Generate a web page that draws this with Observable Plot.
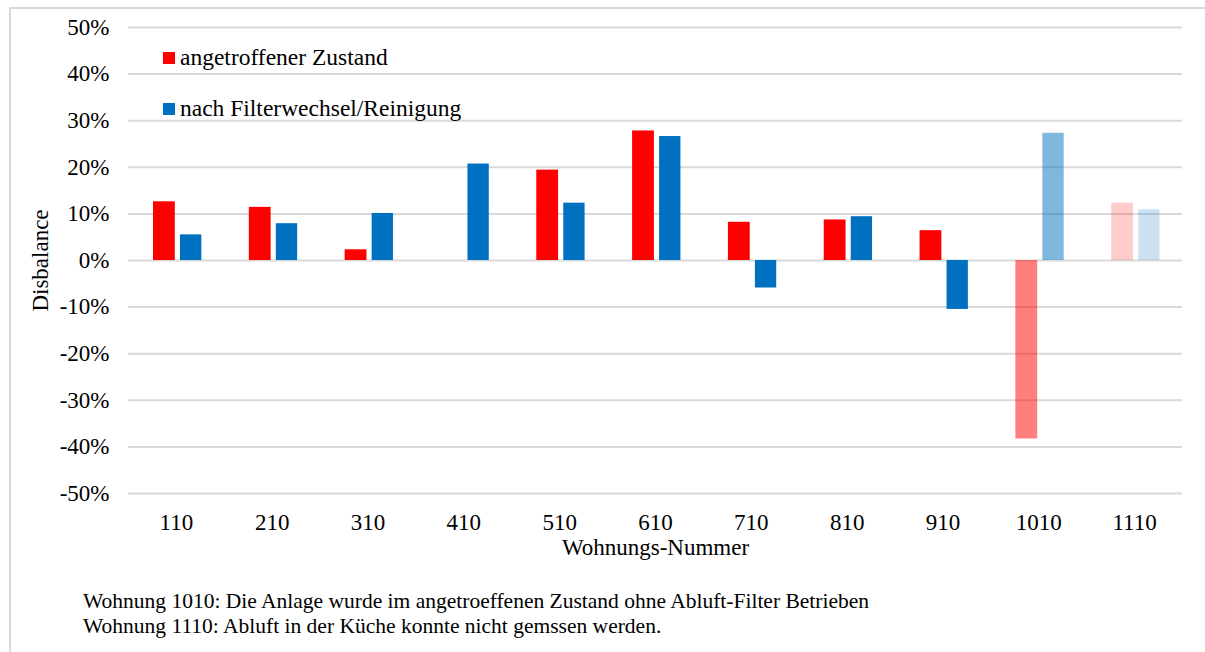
<!DOCTYPE html>
<html>
<head>
<meta charset="utf-8">
<script src="https://cdn.jsdelivr.net/npm/d3@7"></script>
<script src="https://cdn.jsdelivr.net/npm/@observablehq/plot@0.6"></script>
<style>
  body { margin: 0; background: #fff; }
  #wrap { position: relative; width: 1205px; height: 652px; overflow: hidden; font-family: "Liberation Serif", "Times New Roman", serif; color: #000; }
  #borderTop { position: absolute; left: 10px; top: 7px; width: 1195px; height: 2px; background: #d9d9d9; }
  #borderLeft { position: absolute; left: 9px; top: 7px; width: 2px; height: 645px; background: #d9d9d9; }
  #chart { position: absolute; left: 0; top: 0; }
  .leg { position: absolute; left: 163px; font-size: 23.5px; display: flex; align-items: center; white-space: nowrap; }
  .sw { width: 12px; height: 12px; margin-right: 5px; }
  #note { position: absolute; left: 83px; top: 589px; font-size: 21.5px; line-height: 25px; white-space: nowrap; transform-origin: 0 0; }
</style>
</head>
<body>
<div id="wrap">
  <div id="borderTop"></div>
  <div id="borderLeft"></div>
  <div id="chart"></div>
  <div class="leg" style="top:44px"><div class="sw" style="background:#FF0000"></div>angetroffener Zustand</div>
  <div class="leg" style="top:95px"><div class="sw" style="background:#0070C0"></div>nach Filterwechsel/Reinigung</div>
  <div id="note">Wohnung 1010: Die Anlage wurde im angetroeffenen Zustand ohne Abluft-Filter Betrieben<br>Wohnung 1110: Abluft in der Küche konnte nicht gemssen werden.</div>
</div>
<script>
const categories = ["110","210","310","410","510","610","710","810","910","1010","1110"];
const angetroffen = [0.126, 0.114, 0.023, 0.0, 0.194, 0.278, 0.082, 0.087, 0.064, -0.383, 0.123];
const nachWechsel = [0.055, 0.079, 0.101, 0.207, 0.123, 0.266, -0.059, 0.094, -0.105, 0.273, 0.109];
const yTicks = [-0.5,-0.4,-0.3,-0.2,-0.1,0,0.1,0.2,0.3,0.4,0.5];
const fadedCategories = {"1010": 0.5, "1110": 0.2};

const rowsRed = categories.map((c, i) => ({cat: c, value: angetroffen[i], op: fadedCategories[c] ?? 1}));
const rowsBlue = categories.map((c, i) => ({cat: c, value: nachWechsel[i], op: fadedCategories[c] ?? 1}));

const chart = Plot.plot({
  width: 1205,
  height: 570,
  marginLeft: 128,
  marginRight: 23,
  marginTop: 27,
  marginBottom: 77,
  style: {fontFamily: "'Liberation Serif', 'Times New Roman', serif", fontSize: "23px", color: "#000", background: "transparent"},
  x: {type: "band", domain: categories, padding: 0, round: false, label: null, tickSize: 0, tickPadding: 20},
  y: {domain: [-0.5, 0.5], ticks: yTicks, tickFormat: d => Math.round(d * 100) + "%", label: null, tickSize: 0, tickPadding: 19},
  marks: [
    Plot.ruleY(yTicks, {stroke: "#d9d9d9", strokeWidth: 2}),
    Plot.barY(rowsRed, {x: "cat", y: "value", fill: "#FF0000", fillOpacity: "op", insetLeft: 25, insetRight: 49}),
    Plot.barY(rowsBlue, {x: "cat", y: "value", fill: "#0070C0", fillOpacity: "op", insetLeft: 52, insetRight: 22.5}),
    Plot.text(["Wohnungs-Nummer"], {frameAnchor: "bottom", dy: 61, fontSize: 23, fill: "#000"}),
    Plot.text(["Disbalance"], {frameAnchor: "left", dx: -88, rotate: -90, textAnchor: "middle", fontSize: 23, fill: "#000"})
  ]
});
document.getElementById("chart").appendChild(chart);
</script>
</body>
</html>
